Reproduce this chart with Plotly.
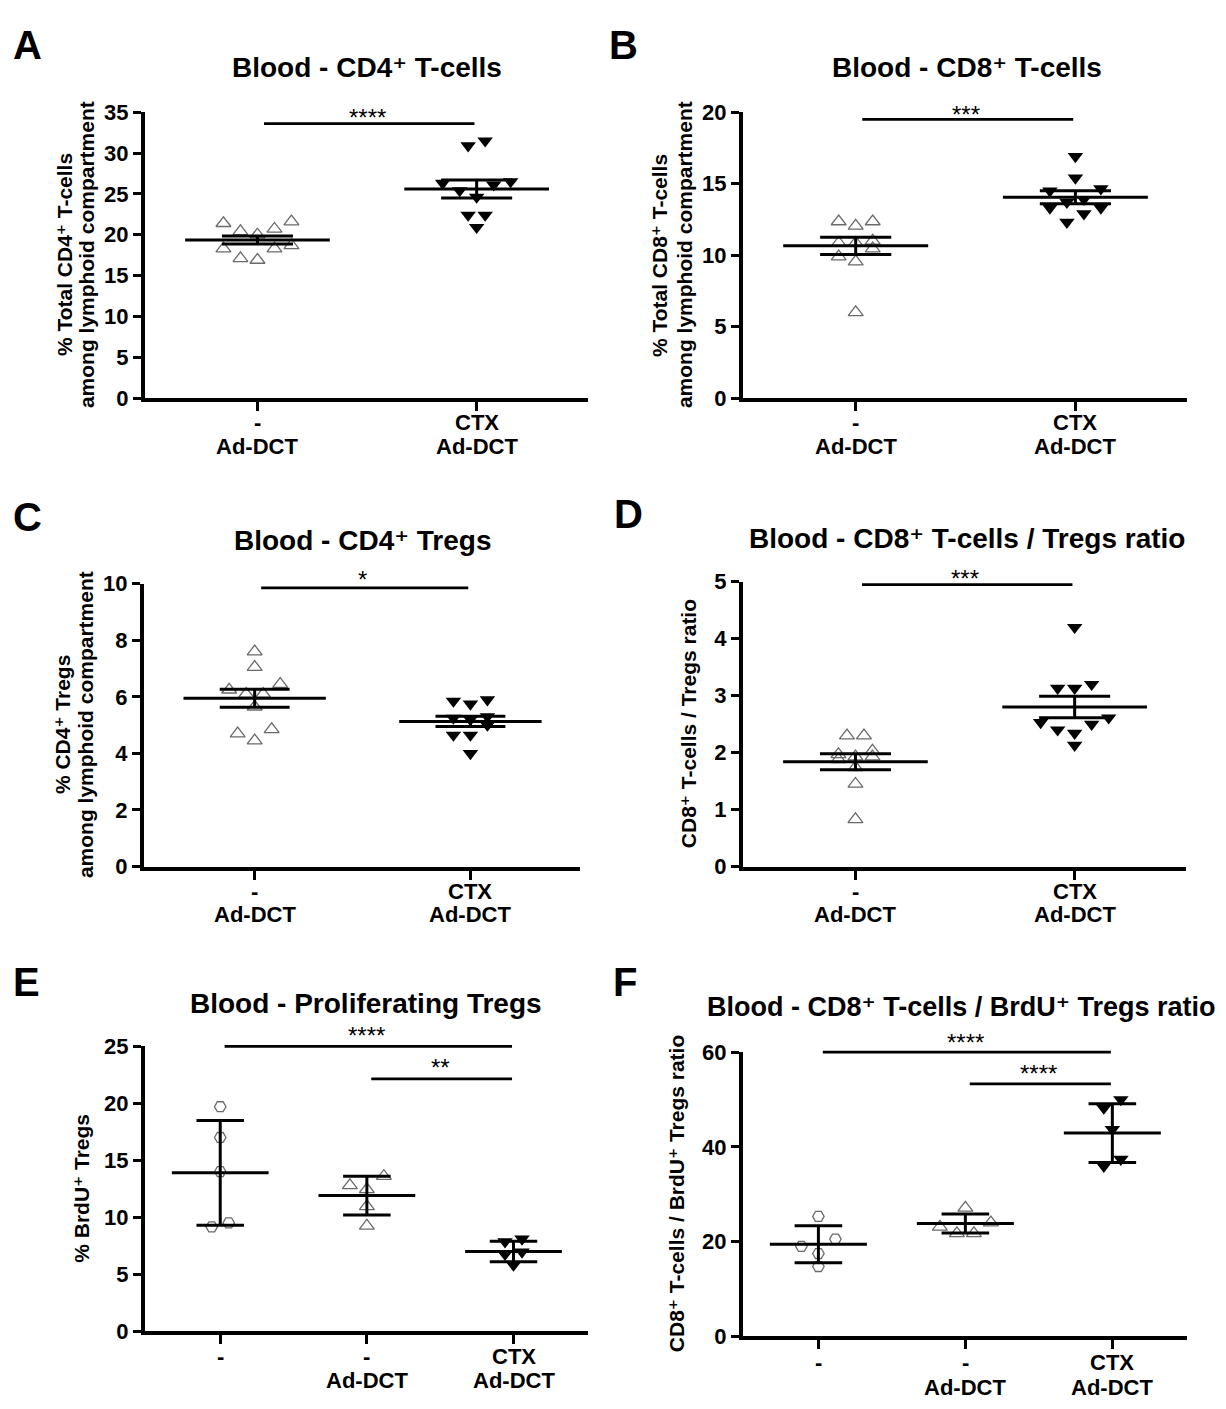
import math
import plotly.graph_objects as go

W, H = 1226, 1409

# ---------------- data ----------------
cats_2 = [["-", "Ad-DCT"], ["CTX", "Ad-DCT"]]
cats_3 = [["-", ""], ["-", "Ad-DCT"], ["CTX", "Ad-DCT"]]

cd4_adv = [21.4, 20.4, 18.7, 18.3, 20.0, 16.9, 20.7, 17.1, 21.6, 18.3]
cd4_ctx = [30.9, 31.5, 26.3, 25.4, 24.6, 26.1, 26.5, 22.4, 22.4, 20.9]
cd4_mean = [19.35, 25.6]
cd4_sem = [0.5, 1.1]

cd8_adv = [12.35, 12.35, 12.05, 11.0, 10.85, 10.85, 10.45, 9.9, 9.55, 6.0]
cd8_ctx = [16.9, 15.4, 14.65, 14.5, 13.9, 13.7, 13.3, 13.3, 12.9, 12.3]
cd8_mean = [10.65, 14.05]
cd8_sem = [0.6, 0.45]

treg_adv = [7.6, 7.05, 6.25, 6.45, 6.1, 6.1, 5.65, 4.85, 4.7, 4.45]
treg_ctx = [5.85, 5.75, 5.9, 5.3, 5.25, 5.2, 5.0, 4.65, 4.65, 4.0]
treg_mean = [5.95, 5.13]
treg_sem = [0.32, 0.18]

ratio_adv = [2.3, 2.3, 2.03, 1.93, 1.93, 1.97, 1.88, 1.74, 1.45, 0.83]
ratio_ctx = [4.2, 3.2, 3.13, 3.13, 2.53, 2.61, 2.4, 2.5, 2.34, 2.13]
ratio_mean = [1.84, 2.80]
ratio_sem = [0.14, 0.19]

brdu_none = [19.7, 17.0, 14.0, 9.15, 9.5]
brdu_adv = [12.8, 12.45, 13.6, 10.95, 9.25]
brdu_ctx = [8.1, 7.85, 6.95, 6.75, 5.8]
brdu_mean = [13.9, 11.9, 7.0]
brdu_sd = [4.6, 1.7, 0.9]

bratio_none = [25.3, 20.5, 18.95, 17.45, 14.7]
bratio_adv = [27.1, 23.1, 24.0, 21.7, 21.7]
bratio_ctx = [50.0, 48.2, 43.7, 37.4, 35.9]
bratio_mean = [19.4, 23.8, 42.9]
bratio_sd = [3.9, 2.0, 6.2]

sig_A = [(0, 1, 33.6, "****")]
sig_B = [(0, 1, 19.5, "***")]
sig_C = [(0, 1, 9.85, "*")]
sig_D = [(0, 1, 4.95, "***")]
sig_E = [(0, 2, 25.0, "****"), (1, 2, 22.15, "**")]
sig_F = [(0, 2, 60.0, "****"), (1, 2, 53.3, "****")]

SUP = "\u207a"  # superscript plus
panels = [
    dict(letter="A", title=f"Blood - CD4{SUP} T-cells",
         ytitle=[f"% Total CD4{SUP} T-cells", "among lymphoid compartment"],
         groups=[cd4_adv, cd4_ctx], means=cd4_mean, errs=cd4_sem, cats=cats_2,
         ymax=35, dtick=5, sig=sig_A),
    dict(letter="B", title=f"Blood - CD8{SUP} T-cells",
         ytitle=[f"% Total CD8{SUP} T-cells", "among lymphoid compartment"],
         groups=[cd8_adv, cd8_ctx], means=cd8_mean, errs=cd8_sem, cats=cats_2,
         ymax=20, dtick=5, sig=sig_B),
    dict(letter="C", title=f"Blood - CD4{SUP} Tregs",
         ytitle=[f"% CD4{SUP} Tregs", "among lymphoid compartment"],
         groups=[treg_adv, treg_ctx], means=treg_mean, errs=treg_sem, cats=cats_2,
         ymax=10, dtick=2, sig=sig_C),
    dict(letter="D", title=f"Blood - CD8{SUP} T-cells / Tregs ratio",
         ytitle=[f"CD8{SUP} T-cells / Tregs ratio"],
         groups=[ratio_adv, ratio_ctx], means=ratio_mean, errs=ratio_sem, cats=cats_2,
         ymax=5, dtick=1, sig=sig_D),
    dict(letter="E", title="Blood - Proliferating Tregs",
         ytitle=[f"% BrdU{SUP} Tregs"],
         groups=[brdu_none, brdu_adv, brdu_ctx], means=brdu_mean, errs=brdu_sd, cats=cats_3,
         ymax=25, dtick=5, sig=sig_E),
    dict(letter="F", title=f"Blood - CD8{SUP} T-cells / BrdU{SUP} Tregs ratio",
         ytitle=[f"CD8{SUP} T-cells / BrdU{SUP} Tregs ratio"],
         groups=[bratio_none, bratio_adv, bratio_ctx], means=bratio_mean, errs=bratio_sd, cats=cats_3,
         ymax=60, dtick=20, sig=sig_F),
]

# ---------------- layout (pixel geometry) ----------------
geom = [
    dict(xd=(145, 588), yd=(393, 102), title=(367, 57), tsize=28, letter=(11, 34),
         ytx=[64, 86], sig_shift=6.5, cat_dy=(25, 49)),
    dict(xd=(743, 1187), yd=(393, 102), title=(967, 57), tsize=28, letter=(607, 34),
         ytx=[659, 684], sig_shift=5, cat_dy=(25, 49)),
    dict(xd=(144, 580), yd=(870, 582), title=(362, 538), tsize=28, letter=(11, 514),
         ytx=[62, 85], sig_shift=8, cat_dy=(25, 49)),
    dict(xd=(743, 1186), yd=(870, 580), title=(967, 536), tsize=28, letter=(612, 511),
         ytx=[688], sig_shift=6, cat_dy=(25, 49)),
    dict(xd=(145, 588), yd=(1343, 1053), title=(366, 1009), tsize=28, letter=(11, 988),
         ytx=[82], sig_shift=11, cat_dy=(26, 50)),
    dict(xd=(743, 1187), yd=(1348, 1059), title=(962, 1013), tsize=27, letter=(611, 988),
         ytx=[676], sig_shift=10, cat_dy=(27, 52)),
]

FONT = "Liberation Sans, Arial, DejaVu Sans, sans-serif"
GRAY = "#6a6a6a"
SYMBOLS = {2: ["triangle-up-open", "triangle-down"],
           3: ["hexagon2-open", "triangle-up-open", "triangle-down"]}
SIZES = {"triangle-up-open": 13, "triangle-down": 13.5, "hexagon2-open": 11.5}
MEAN_HALF = 0.33
CAP_HALF = 0.162


def fx(px):
    return px / W


def fy(py):
    return 1 - py / H


def swarm(vals, ppu, ppc, w=17.0, h=10.2, max_row=5):
    """Beeswarm-like horizontal spreading computed from the values."""
    order = sorted(range(len(vals)), key=lambda i: -vals[i])
    chains = []
    for i in order:
        if chains and (vals[chains[-1][-1]] - vals[i]) * ppu < h:
            chains[-1].append(i)
        else:
            chains.append([i])
    rows = []
    for c in chains:
        k = math.ceil(len(c) / max_row)
        start = 0
        for r in range(k):
            end = round((r + 1) * len(c) / k)
            rows.append(c[start:end])
            start = end
    off = [0.0] * len(vals)
    for row in rows:
        n = len(row)
        slots = [(k - (n - 1) / 2) * w for k in range(n)]
        slot_order = sorted(range(n), key=lambda k: (-abs(slots[k]), -slots[k]))
        for idx, k in zip(row, slot_order):
            off[idx] = slots[k] / ppc
    return off


fig = go.Figure()
annotations = []
shapes = []
layout_axes = {}

for n, (p, g) in enumerate(zip(panels, geom), start=1):
    xa = "x" if n == 1 else f"x{n}"
    ya = "y" if n == 1 else f"y{n}"
    xk = "xaxis" if n == 1 else f"xaxis{n}"
    yk = "yaxis" if n == 1 else f"yaxis{n}"
    ncat = len(p["cats"])
    xr = [-0.513, ncat - 1 + 0.508]
    x0, x1 = g["xd"]
    yb, yt = g["yd"]
    ppc = (x1 - x0) / (xr[1] - xr[0])
    ppu = (yb - yt) / p["ymax"]

    for gi, vals in enumerate(p["groups"]):
        offs = swarm(vals, ppu, ppc)
        sym = SYMBOLS[ncat][gi]
        is_open = sym.endswith("open")
        fig.add_trace(go.Scatter(
            x=[gi + o for o in offs], y=vals, xaxis=xa, yaxis=ya, mode="markers",
            marker=dict(symbol=sym, size=SIZES[sym],
                        color=GRAY if is_open else "black",
                        line=dict(width=1.3 if is_open else 0, color=GRAY if is_open else "black")),
            cliponaxis=False, showlegend=False, hoverinfo="skip"))

    mx, my = [], []
    for gi, m in enumerate(p["means"]):
        mx += [gi - MEAN_HALF, gi + MEAN_HALF, None]
        my += [m, m, None]
    fig.add_trace(go.Scatter(x=mx, y=my, xaxis=xa, yaxis=ya, mode="lines",
                             line=dict(color="black", width=3), cliponaxis=False,
                             showlegend=False, hoverinfo="skip"))
    fig.add_trace(go.Scatter(
        x=list(range(ncat)), y=p["means"], xaxis=xa, yaxis=ya, mode="markers",
        marker=dict(size=2, color="rgba(0,0,0,0)"),
        error_y=dict(type="data", array=p["errs"], width=CAP_HALF * ppc,
                     thickness=3, color="black"),
        cliponaxis=False, showlegend=False, hoverinfo="skip"))

    # significance bars: x in data units, y relative to the y-axis domain
    # (so that a bar at the top of the axis is not clipped)
    for (i, j, hgt, lab) in p["sig"]:
        shapes.append(dict(type="line", xref=xa, yref=f"{ya} domain",
                           x0=i + 0.03, x1=j - 0.01,
                           y0=hgt / p["ymax"], y1=hgt / p["ymax"],
                           line=dict(color="black", width=2.8)))
        annotations.append(dict(text=lab, xref=xa, yref=ya, x=(i + j) / 2, y=hgt,
                                xanchor="center", yanchor="middle", yshift=g["sig_shift"],
                                showarrow=False,
                                font=dict(family=FONT, size=24, color="black")))

    layout_axes[xk] = dict(
        domain=[fx(x0), fx(x1)], range=xr, anchor=ya,
        showline=True, linewidth=4, linecolor="black",
        ticks="outside", ticklen=9, tickwidth=3, tickcolor="black",
        tickmode="array", tickvals=list(range(ncat)), showticklabels=False,
        showgrid=False, zeroline=False)
    layout_axes[yk] = dict(
        domain=[fy(yb), fy(yt)], range=[0, p["ymax"]], anchor=xa,
        showline=True, linewidth=4, linecolor="black",
        ticks="outside", ticklen=8, tickwidth=3, tickcolor="black",
        tickmode="linear", tick0=0, dtick=p["dtick"],
        tickfont=dict(family=FONT, size=22, color="black", weight="bold"),
        showgrid=False, zeroline=False)

    # category labels (two lines each)
    for ci, pair in enumerate(p["cats"]):
        for txt, dy in zip(pair, g["cat_dy"]):
            if txt:
                annotations.append(dict(text=txt, xref=xa, yref="paper", x=ci,
                                        y=fy(yb + dy), xanchor="center", yanchor="middle",
                                        showarrow=False,
                                        font=dict(family=FONT, size=22, color="black", weight="bold")))
    # panel letter
    annotations.append(dict(text=p["letter"], xref="paper", yref="paper",
                            x=fx(g["letter"][0]), y=fy(g["letter"][1]),
                            xanchor="left", yanchor="middle", showarrow=False,
                            font=dict(family=FONT, size=40, color="black", weight="bold")))
    # title
    annotations.append(dict(text=p["title"], xref="paper", yref="paper",
                            x=fx(g["title"][0]), y=fy(g["title"][1]),
                            xanchor="center", yanchor="middle", showarrow=False,
                            font=dict(family=FONT, size=g["tsize"], color="black", weight="bold")))
    # y-axis title lines
    for line, lx in zip(p["ytitle"], g["ytx"]):
        annotations.append(dict(text=line, xref="paper", yref="paper",
                                x=fx(lx), y=fy((yb + yt) / 2), textangle=-90,
                                xanchor="center", yanchor="middle", showarrow=False,
                                font=dict(family=FONT, size=21, color="black", weight="bold")))

fig.update_layout(
    width=W, height=H, autosize=False,
    margin=dict(l=0, r=0, t=0, b=0),
    paper_bgcolor="white", plot_bgcolor="white",
    font=dict(family=FONT, color="black"),
    showlegend=False,
    annotations=annotations, shapes=shapes,
    **layout_axes,
)

fig.write_html(
    "out.html",
    config={"displayModeBar": False},
    post_script=(
        "document.documentElement.style.margin='0';"
        "document.documentElement.style.overflow='hidden';"
        "document.body.style.margin='0';document.body.style.padding='0';"
        "document.body.style.overflow='hidden';"
        "var gd=document.getElementById('{plot_id}');"
        "gd.parentElement.style.fontSize='0';gd.parentElement.style.lineHeight='0';"
        "gd.style.position='absolute';gd.style.left='0px';gd.style.top='0px';"
    ),
)
